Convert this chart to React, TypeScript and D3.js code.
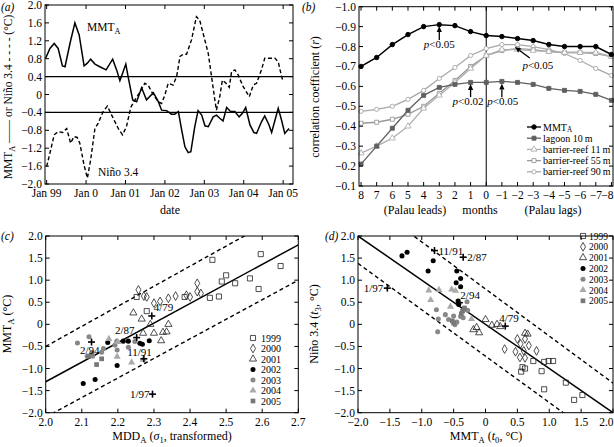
import React from 'react';
import * as d3 from 'd3';

// ---------- Panel (a): time series ----------
const mmtMonths = [-0.3, 1.0, 2.3, 3.5, 4.8, 5.6, 7.1, 8.6, 9.9, 11.4, 12.4, 13.4, 14.7, 16.2, 18.1, 20.1, 21.3, 22.3, 23.1, 24.1, 24.8, 26.2, 27.4, 28.9, 30.4, 32.5, 34.0, 35.0, 36.5, 38.0, 39.0, 40.1, 41.1, 42.1, 43.1, 43.9, 45.1, 46.1, 47.2, 48.2, 49.2, 50.7, 51.7, 52.7, 53.7, 54.8, 56.0, 57.3, 58.6, 59.6, 60.6, 61.9, 63.1, 63.9, 65.4, 66.4, 67.7, 68.5, 70.5, 71.5, 72.5, 73.8];
const mmtValues = [0.81, 1.03, 1.14, 1.03, 0.64, 0.62, 1.14, 1.6, 1.33, 0.64, 0.7, 0.79, 0.68, 0.62, 0.55, 0.79, 0.55, 0.31, 0.47, 0.68, 0.4, -0.12, -0.16, 0.15, -0.12, 0.04, -0.16, -0.35, -0.36, -0.44, -0.44, -0.38, -0.79, -1.17, -1.3, -1.28, -0.72, -0.36, -0.46, -0.7, -0.72, -0.5, -0.46, -0.53, -0.59, -0.29, -0.38, -0.38, -0.5, -0.42, -0.29, -0.68, -0.85, -0.87, -0.61, -0.48, -0.68, -0.85, -0.31, -0.57, -0.87, -0.76];
const ninoMonths = [0, 1.0, 2.3, 3.5, 4.9, 6.1, 7.3, 8.3, 9.3, 10.1, 11.4, 12.4, 13.4, 14.7, 15.7, 17.2, 18.5, 19.8, 21.8, 23.1, 24.3, 25.6, 26.9, 28.2, 29.9, 30.9, 32.5, 34.0, 35.0, 36.0, 37.0, 38.5, 39.6, 40.6, 41.6, 42.6, 44.1, 45.6, 46.6, 47.9, 49.2, 50.2, 51.2, 51.7, 52.7, 53.5, 54.6, 55.6, 56.3, 57.3, 58.3, 59.8, 61.7, 62.9, 63.9, 65.4, 66.4, 67.9, 69.5, 70.5, 71.5, 72.0];
const ninoValues = [-1.61, -1.31, -0.9, -0.83, -0.85, -0.76, -1.09, -0.94, -0.96, -1.09, -1.58, -1.87, -1.46, -0.76, -0.64, -0.38, -0.26, -0.46, -0.76, -0.9, -0.72, -0.29, -0.12, 0.03, 0.25, 0.21, -0.01, -0.16, -0.2, -0.01, 0.25, 0.21, 0.41, 0.85, 0.9, 0.9, 1.22, 1.74, 1.66, 1.29, 0.92, 0.4, -0.12, -0.35, -0.05, 0.32, 0.25, 0.16, 0.51, 0.55, 0.44, 0.18, -0.05, 0.21, 0.25, 0.55, 0.81, 0.81, 0.81, 0.73, 0.41, 0.29];
const dateTickMonths = [0, 12, 24, 36, 48, 60, 72];
const dateTickLabels = ['Jan 99', 'Jan 0', 'Jan 01', 'Jan 02', 'Jan 03', 'Jan 04', 'Jan 05'];
const aYTicks = [2.0, 1.6, 1.2, 0.8, 0.4, 0, -0.4, -0.8, -1.2, -1.6, -2.0];
const thresholds = [0.4, -0.4];

// ---------- Panel (b): lag correlations ----------
const lags = [8, 7, 6, 5, 4, 3, 2, 1, 0, -1, -2, -3, -4, -5, -6, -7, -8];
const corrMMT = [-0.70, -0.745, -0.81, -0.86, -0.90, -0.91, -0.905, -0.875, -0.855, -0.85, -0.84, -0.83, -0.81, -0.80, -0.80, -0.80, -0.76];
const corrLagoon = [-0.21, -0.30, -0.39, -0.48, -0.555, -0.595, -0.61, -0.62, -0.62, -0.625, -0.62, -0.61, -0.59, -0.58, -0.575, -0.56, -0.53];
const corrBR11 = [-0.265, -0.30, -0.34, -0.40, -0.49, -0.555, -0.62, -0.69, -0.755, -0.785, -0.785, -0.78, -0.775, -0.77, -0.77, -0.77, -0.75];
const corrBR55 = [-0.415, -0.42, -0.435, -0.46, -0.50, -0.565, -0.63, -0.70, -0.755, -0.78, -0.79, -0.785, -0.775, -0.77, -0.77, -0.765, -0.75];
const corrBR90 = [-0.475, -0.485, -0.50, -0.535, -0.58, -0.64, -0.695, -0.755, -0.79, -0.81, -0.81, -0.80, -0.785, -0.765, -0.73, -0.69, -0.655];
const bYTicks = [-1.0, -0.9, -0.8, -0.7, -0.6, -0.5, -0.4, -0.3, -0.2, -0.1];
const bSeriesNames = ['MMT', 'lagoon 10\u2009m', 'barrier-reef 11\u2009m', 'barrier-reef 55\u2009m', 'barrier-reef 90\u2009m'];

// ---------- Panel (c): MMT_A vs MDD_A ----------
const yearNames = ['1999', '2000', '2001', '2002', '2003', '2004', '2005'];
const c1999 = [[2.462, 1.46], [2.596, 1.59], [2.651, 1.32], [2.50, 1.11], [2.488, 0.97], [2.525, 0.93], [2.566, 1.04], [2.59, 0.80], [2.455, 0.60], [2.48, 0.63], [2.28, 0.30], [2.385, 0.62], [2.252, 0.62]];
const c2000 = [[2.257, 0.78], [2.272, 0.64], [2.30, 0.48], [2.317, 0.52], [2.34, 0.59], [2.36, 0.64], [2.39, 0.66], [2.40, 0.62], [2.42, 0.74], [2.43, 0.70], [2.42, 0.93], [2.28, 0.62]];
const c2001 = [[2.243, 0.26], [2.266, 0.12], [2.27, -0.20], [2.30, -0.20], [2.325, -0.18], [2.335, -0.17], [2.32, -0.37], [2.29, 0.0], [2.34, 0.0]];
const c2002 = [[2.172, -0.41], [2.198, -0.93], [2.215, -0.38], [2.229, -0.38], [2.261, -0.43], [2.287, -0.37], [2.104, -1.34], [2.137, -1.25], [2.268, -0.45]];
const c2003 = [[2.088, -0.42], [2.12, -0.28], [2.115, -0.72], [2.13, -0.72], [2.155, -0.63], [2.192, -0.47], [2.197, -0.38], [2.198, -0.58], [2.229, -0.52], [2.247, -0.39], [2.16, -0.55]];
const c2004 = [[2.175, -0.33], [2.198, -0.73], [2.238, -0.86], [2.20, -0.40], [2.27, -0.80]];
const c2005 = [[2.141, -0.91], [2.155, -0.78], [2.118, -0.72], [2.128, -0.65]];
const cEvents = ['4/79', '2/87', '2/94', '11/91', '1/97'];
const cEventPts = [[2.294, 0.19], [2.252, -0.30], [2.127, -0.40], [2.272, -0.78], [2.296, -1.58]];
const cFit = [[2.0, -1.3], [2.7, 1.8]];
const cUpper = [[2.0, -0.5], [2.7, 2.68]];
const cLower = [[2.0, -2.1], [2.7, 1.0]];
const cXTicks = [2.0, 2.1, 2.2, 2.3, 2.4, 2.5, 2.6, 2.7];
const cdYTicks = [2.0, 1.5, 1.0, 0.5, 0, -0.5, -1.0, -1.5, -2.0];

// ---------- Panel (d): Nino 3.4 vs MMT_A ----------
const d1999 = [[0.58, -0.97], [0.56, -1.07], [0.75, -0.83], [0.88, -1.06], [0.92, -0.85], [0.99, -0.83], [1.06, -0.83], [1.26, -1.32], [0.92, -1.47], [1.39, -1.71], [1.52, -1.60], [0.62, -1.0]];
const d2000 = [[0.30, -0.56], [0.50, -0.33], [0.55, -0.44], [0.62, -0.33], [0.68, -0.48], [0.80, -0.60], [0.47, -0.62], [0.54, -0.75], [0.62, -0.76], [0.60, -0.60]];
const d2001 = [[0.0, 0.11], [-0.19, -0.12], [-0.10, -0.19], [0.10, -0.02], [0.23, -0.05], [0.62, -0.20], [-0.14, -0.07], [0.18, 0.0], [0.66, -0.22]];
const d2002 = [[-1.31, 1.55], [-1.23, 1.63], [-0.82, 1.44], [-0.90, 1.21], [-0.45, 1.21], [-0.39, 1.04], [-0.46, 0.94], [-0.39, 0.85], [-0.43, 0.53], [-0.42, 0.45]];
const d2003 = [[-0.77, 0.33], [-0.63, 0.22], [-0.74, 0.12], [-0.58, 0.11], [-0.50, 0.19], [-0.48, -0.01], [-0.39, 0.18], [-0.75, -0.17], [-0.29, 0.51], [-0.28, 0.32], [-0.45, 0.05], [-0.35, 0.15]];
const d2004 = [[-0.89, 0.77], [-0.86, 0.55], [-0.73, 0.78], [-0.53, 0.79], [-0.55, 0.40], [-0.22, 0.12], [-0.47, 0.76]];
const d2005 = [[-0.33, 0.37], [-0.36, 0.30], [-0.50, 0.03], [-0.52, 0.08], [-0.38, 0.24]];
const dEvents = ['11/91', '2/87', '1/97', '2/94', '4/79'];
const dEventPts = [[-0.80, 1.67], [-0.35, 1.52], [-1.54, 0.82], [-0.41, 0.49], [0.31, -0.04]];
const dFit = [[-2, 2], [2, -2]];
const dUpper = [[-2, 2.93], [2, -1.33]];
const dLower = [[-2, 1.38], [2, -2.82]];
const dXTicks = [-2.0, -1.5, -1.0, -0.5, 0, 0.5, 1.0, 1.5, 2.0];

// ---------- helpers ----------
const FONT = '"Liberation Serif", "Times New Roman", serif';
const fmt1 = (v: number) => (Math.abs(v) < 1e-9 ? '0' : d3.format('.1f')(v));
const fmtInt = (v: number) => d3.format('d')(v);

type Scale = d3.ScaleLinear<number, number>;

function Frame({ x, y, tx, ty, txLabels, tyLabels, fontSize = 11.5 }: { x: Scale; y: Scale; tx: number[]; ty: number[]; txLabels: string[]; tyLabels: string[]; fontSize?: number }) {
  const [xa, xb] = x.range();
  const [ya, yb] = y.range();
  const x0 = Math.min(xa, xb), x1 = Math.max(xa, xb);
  const y0 = Math.min(ya, yb), y1 = Math.max(ya, yb);
  const L = 4;
  return (
    <g>
      <rect x={x0} y={y0} width={x1 - x0} height={y1 - y0} fill="none" stroke="#000" strokeWidth={1} />
      {tx.map((t, i) => {
        const px = x(t);
        const nearEdge = px > 604;
        return (
          <g key={'x' + i}>
            <line x1={px} x2={px} y1={y1} y2={y1 - L} stroke="#000" />
            <line x1={px} x2={px} y1={y0} y2={y0 + L} stroke="#000" />
            <text x={nearEdge ? 613.5 : px} y={y1 + 13} textAnchor={nearEdge ? 'end' : 'middle'} fontSize={fontSize} fontFamily={FONT}>{txLabels[i]}</text>
          </g>
        );
      })}
      {ty.map((t, i) => (
        <g key={'y' + i}>
          <line x1={x0} x2={x0 + L} y1={y(t)} y2={y(t)} stroke="#000" />
          <line x1={x1} x2={x1 - L} y1={y(t)} y2={y(t)} stroke="#000" />
          <text x={x0 - 3} y={y(t) + 4} textAnchor="end" fontSize={fontSize} fontFamily={FONT}>{tyLabels[i]}</text>
        </g>
      ))}
    </g>
  );
}

const yearStyles = [
  { type: d3.symbolSquare, size: 26, fill: 'none', stroke: '#222' },
  { type: d3.symbolDiamond, size: 22, fill: 'none', stroke: '#222' },
  { type: d3.symbolTriangle, size: 22, fill: 'none', stroke: '#222' },
  { type: d3.symbolCircle, size: 20, fill: '#000', stroke: 'none' },
  { type: d3.symbolCircle, size: 20, fill: '#888', stroke: 'none' },
  { type: d3.symbolTriangle, size: 22, fill: '#aaa', stroke: 'none' },
  { type: d3.symbolSquare, size: 22, fill: '#777', stroke: 'none' },
];

function Marker({ cx, cy, idx }: { cx: number; cy: number; idx: number }) {
  const s = yearStyles[idx];
  const d = d3.symbol().type(s.type).size(s.size)() as string;
  return <path d={d} transform={`translate(${cx},${cy})`} fill={s.fill} stroke={s.stroke} strokeWidth={0.8} />;
}

function Cross({ cx, cy }: { cx: number; cy: number }) {
  return (
    <g stroke="#000" strokeWidth={1.6}>
      <line x1={cx - 3.5} x2={cx + 3.5} y1={cy} y2={cy} />
      <line x1={cx} x2={cx} y1={cy - 3.5} y2={cy + 3.5} />
    </g>
  );
}

function Sub({ children }: { children: React.ReactNode }) {
  return <tspan dy={3} fontSize="0.72em">{children}</tspan>;
}

function Arrow({ x1, y1, x2, y2 }: { x1: number; y1: number; x2: number; y2: number }) {
  const ang = Math.atan2(y2 - y1, x2 - x1);
  const hl = 6, hw = 2.6;
  const bx = x2 - hl * Math.cos(ang), by = y2 - hl * Math.sin(ang);
  const px = -Math.sin(ang) * hw, py = Math.cos(ang) * hw;
  return (
    <g>
      <line x1={x1} y1={y1} x2={bx} y2={by} stroke="#000" strokeWidth={1.3} />
      <polygon points={`${x2},${y2} ${bx + px},${by + py} ${bx - px},${by - py}`} fill="#000" />
    </g>
  );
}

export default function App() {
  // (a)
  const ax = d3.scaleLinear().domain([-0.5, 75]).range([45, 293]);
  const ay = d3.scaleLinear().domain([-2, 2]).range([184, 5]);
  const mmtPath = d3.line<number>().x((d, i) => ax(mmtMonths[i])).y((d) => ay(d))(mmtValues) as string;
  const ninoPath = d3.line<number>().x((d, i) => ax(ninoMonths[i])).y((d) => ay(d))(ninoValues) as string;

  // (b)
  const bx = d3.scaleLinear().domain([8.13, -8.1]).range([359, 613]);
  const by = d3.scaleLinear().domain([-1.0, -0.1]).range([6.7, 186]);
  const bLine = (vals: number[]) => d3.line<number>().x((d, i) => bx(lags[i])).y((d) => by(d))(vals) as string;
  const bSeries = [
    { vals: corrBR90, color: '#a8a8a8', type: d3.symbolCircle, size: 14, fill: '#fff' },
    { vals: corrBR55, color: '#999', type: d3.symbolSquare, size: 16, fill: '#fff' },
    { vals: corrBR11, color: '#b0b0b0', type: d3.symbolTriangle, size: 16, fill: '#fff' },
    { vals: corrLagoon, color: '#606060', type: d3.symbolSquare, size: 16, fill: '#606060' },
    { vals: corrMMT, color: '#000', type: d3.symbolCircle, size: 16, fill: '#000' },
  ];
  const legendOrder = [4, 3, 2, 1, 0];

  // (c)
  const cx = d3.scaleLinear().domain([2.0, 2.7]).range([45.7, 298.3]);
  const cy = d3.scaleLinear().domain([-2, 2]).range([412.7, 236]);
  const cYears = [c1999, c2000, c2001, c2002, c2003, c2004, c2005];
  // (d)
  const dx = d3.scaleLinear().domain([-2, 2]).range([358, 613]);
  const dy = d3.scaleLinear().domain([-2, 2]).range([412.7, 236]);
  const dYears = [d1999, d2000, d2001, d2002, d2003, d2004, d2005];

  const seg = (sx: Scale, sy: Scale, pts: number[][]) => d3.line<number[]>().x((p) => sx(p[0])).y((p) => sy(p[1]))(pts) as string;

  return (
    <svg width={614} height={447} style={{ position: 'absolute', left: 0, top: 0, background: '#fff' }} fontFamily={FONT}>
      <defs>
        <clipPath id="clipC"><rect x={45.7} y={236} width={252.6} height={176.7} /></clipPath>
        <clipPath id="clipD"><rect x={358} y={236} width={255} height={176.7} /></clipPath>
        <clipPath id="clipA"><rect x={45} y={5} width={248} height={179} /></clipPath>
      </defs>
      <rect width={614} height={447} fill="#fff" />

      {/* ---------- (a) ---------- */}
      <text x={1} y={11} fontSize={11.5} fontStyle="italic">(a)</text>
      <g clipPath="url(#clipA)">
        {thresholds.map((t) => (
          <line key={t} x1={45} x2={293} y1={ay(t)} y2={ay(t)} stroke="#000" strokeWidth={1.2} />
        ))}
        <path d={ninoPath} fill="none" stroke="#000" strokeWidth={1.4} strokeDasharray="4,2.5" />
        <path d={mmtPath} fill="none" stroke="#000" strokeWidth={1.5} />
      </g>
      <Frame x={ax} y={ay} tx={dateTickMonths} ty={aYTicks} txLabels={dateTickLabels} tyLabels={aYTicks.map(fmt1)} />
      <text x={87} y={31} fontSize={11.5}>MMT<Sub>A</Sub></text>
      <text x={98} y={176} fontSize={11.5}>Niño 3.4</text>
      <text x={170} y={214} fontSize={12} textAnchor="middle">date</text>
      <text transform="translate(12,97) rotate(-90)" fontSize={11.5} textAnchor="middle">MMT<Sub>A</Sub><tspan dy={-3}> —— or Niño 3.4 - - - - (°C)</tspan></text>

      {/* ---------- (b) ---------- */}
      <text x={302} y={11} fontSize={11.5} fontStyle="italic">(b)</text>
      <line x1={bx(0)} x2={bx(0)} y1={by(-1.0)} y2={by(-0.1)} stroke="#000" strokeWidth={1} />
      {bSeries.map((s, k) => (
        <g key={k}>
          <path d={bLine(s.vals)} fill="none" stroke={s.color} strokeWidth={k === 4 ? 1.5 : 1.3} />
          {s.vals.map((v, i) => (
            <path key={i} d={d3.symbol().type(s.type).size(s.size)() as string} transform={`translate(${bx(lags[i])},${by(v)})`} fill={s.fill} stroke={s.color} strokeWidth={0.9} />
          ))}
        </g>
      ))}
      <Frame x={bx} y={by} tx={lags} ty={bYTicks} txLabels={lags.map(fmtInt)} tyLabels={bYTicks.map(fmt1)} />
      <Arrow x1={bx(3)} y1={by(-0.833)} x2={bx(3)} y2={by(-0.903)} />
      <text x={bx(3)} y={by(-0.793)} fontSize={11} textAnchor="middle"><tspan fontStyle="italic">p</tspan>{'<0.05'}</text>
      <Arrow x1={bx(1)} y1={by(-0.546)} x2={bx(1)} y2={by(-0.612)} />
      <text x={bx(1.17)} y={by(-0.506)} fontSize={11} textAnchor="middle"><tspan fontStyle="italic">p</tspan>{'<0.02'}</text>
      <Arrow x1={bx(-1)} y1={by(-0.546)} x2={bx(-1)} y2={by(-0.615)} />
      <text x={bx(-1.06)} y={by(-0.506)} fontSize={11} textAnchor="middle"><tspan fontStyle="italic">p</tspan>{'<0.05'}</text>
      <Arrow x1={bx(-2.78)} y1={by(-0.742)} x2={bx(-1.83)} y2={by(-0.798)} />
      <text x={bx(-3.3)} y={by(-0.687)} fontSize={11} textAnchor="middle"><tspan fontStyle="italic">p</tspan>{'<0.05'}</text>
      {legendOrder.map((k, j) => {
        const s = bSeries[k];
        const ly = 127 + j * 11.2;
        return (
          <g key={k}>
            <line x1={527} x2={541} y1={ly} y2={ly} stroke={s.color} strokeWidth={1.3} />
            <path d={d3.symbol().type(s.type).size(s.size)() as string} transform={`translate(534,${ly})`} fill={s.fill} stroke={s.color} strokeWidth={0.9} />
            <text x={543} y={ly + 3.5} fontSize={10}>{k === 4 ? <>MMT<tspan dy={1.5} fontSize="0.72em">A</tspan></> : bSeriesNames[4 - k]}</text>
          </g>
        );
      })}
      <text transform="translate(319,97) rotate(-90)" fontSize={12} textAnchor="middle">correlation coefficient (<tspan fontStyle="italic">r</tspan>)</text>
      <text x={415} y={214} fontSize={12} textAnchor="middle">(Palau leads)</text>
      <text x={480} y={214} fontSize={12} textAnchor="middle">months</text>
      <text x={553} y={214} fontSize={12} textAnchor="middle">(Palau lags)</text>

      {/* ---------- (c) ---------- */}
      <text x={1} y={240} fontSize={11.5} fontStyle="italic">(c)</text>
      <g clipPath="url(#clipC)">
        <path d={seg(cx, cy, cFit)} stroke="#000" strokeWidth={1.5} fill="none" />
        <path d={seg(cx, cy, cUpper)} stroke="#000" strokeWidth={1.4} strokeDasharray="4,3" fill="none" />
        <path d={seg(cx, cy, cLower)} stroke="#000" strokeWidth={1.4} strokeDasharray="4,3" fill="none" />
      </g>
      {cYears.map((pts, k) => pts.map((p, i) => <Marker key={k + '-' + i} cx={cx(p[0])} cy={cy(p[1])} idx={k} />))}
      {cEventPts.map((p, i) => <Cross key={i} cx={cx(p[0])} cy={cy(p[1])} />)}
      <text x={cx(2.294) + 2} y={cy(0.19) - 5} fontSize={11}>{cEvents[0]}</text>
      <text x={cx(2.252) - 2} y={cy(-0.30) - 4} fontSize={11} textAnchor="end">{cEvents[1]}</text>
      <text x={cx(2.127) + 8} y={cy(-0.40) + 12} fontSize={11} textAnchor="end">{cEvents[2]}</text>
      <text x={cx(2.272) + 8} y={cy(-0.78) - 3} fontSize={11} textAnchor="end">{cEvents[3]}</text>
      <text x={cx(2.296) - 3} y={cy(-1.58) + 4} fontSize={11} textAnchor="end">{cEvents[4]}</text>
      <Frame x={cx} y={cy} tx={cXTicks} ty={cdYTicks} txLabels={cXTicks.map(fmt1)} tyLabels={cdYTicks.map(fmt1)} />
      {yearNames.map((n, k) => (
        <g key={n}>
          <Marker cx={253} cy={338 + k * 10.5} idx={k} />
          <text x={261} y={338 + k * 10.5 + 3.5} fontSize={10}>{n}</text>
        </g>
      ))}
      <text x={172} y={440} fontSize={12} textAnchor="middle">MDD<Sub>A</Sub><tspan dy={-3}> (</tspan><tspan fontStyle="italic">σ</tspan><Sub>1</Sub><tspan dy={-3}>, transformed)</tspan></text>
      <text transform="translate(11,324) rotate(-90)" fontSize={12} textAnchor="middle">MMT<Sub>A</Sub><tspan dy={-3}> (°C)</tspan></text>

      {/* ---------- (d) ---------- */}
      <text x={325} y={240} fontSize={11.5} fontStyle="italic">(d)</text>
      <g clipPath="url(#clipD)">
        <path d={seg(dx, dy, dFit)} stroke="#000" strokeWidth={1.5} fill="none" />
        <path d={seg(dx, dy, dUpper)} stroke="#000" strokeWidth={1.4} strokeDasharray="4,3" fill="none" />
        <path d={seg(dx, dy, dLower)} stroke="#000" strokeWidth={1.4} strokeDasharray="4,3" fill="none" />
      </g>
      {dYears.map((pts, k) => pts.map((p, i) => <Marker key={k + '-' + i} cx={dx(p[0])} cy={dy(p[1])} idx={k} />))}
      {dEventPts.map((p, i) => <Cross key={i} cx={dx(p[0])} cy={dy(p[1])} />)}
      <text x={dx(-0.80) + 4} y={dy(1.67) + 4} fontSize={11}>{dEvents[0]}</text>
      <text x={dx(-0.35) + 4} y={dy(1.52) + 4} fontSize={11}>{dEvents[1]}</text>
      <text x={dx(-1.54) - 4} y={dy(0.82) + 4} fontSize={11} textAnchor="end">{dEvents[2]}</text>
      <text x={dx(-0.41) + 1} y={dy(0.49) - 4} fontSize={11}>{dEvents[3]}</text>
      <text x={dx(0.31) - 6} y={dy(-0.04) - 4} fontSize={11}>{dEvents[4]}</text>
      <Frame x={dx} y={dy} tx={dXTicks} ty={cdYTicks} txLabels={dXTicks.map(fmt1)} tyLabels={cdYTicks.map(fmt1)} />
      {yearNames.map((n, k) => (
        <g key={n}>
          <Marker cx={583} cy={236 + k * 10.8} idx={k} />
          <text x={589} y={236 + k * 10.8 + 3.5} fontSize={9.5}>{n}</text>
        </g>
      ))}
      <text x={486} y={440} fontSize={12} textAnchor="middle">MMT<Sub>A</Sub><tspan dy={-3}> (</tspan><tspan fontStyle="italic">t</tspan><Sub>0</Sub><tspan dy={-3}>, °C)</tspan></text>
      <text transform="translate(318,324) rotate(-90)" fontSize={12} textAnchor="middle">Niño 3.4 (<tspan fontStyle="italic">t</tspan><Sub>3</Sub><tspan dy={-3}>, °C)</tspan></text>
    </svg>
  );
}
